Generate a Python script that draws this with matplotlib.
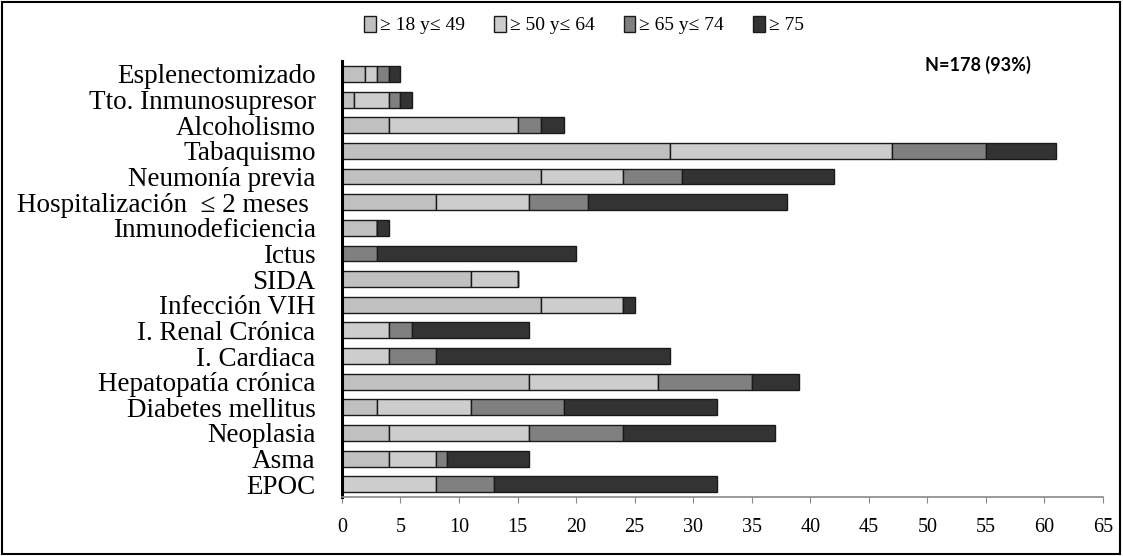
import matplotlib
matplotlib.use('Agg')
import matplotlib.pyplot as plt
import numpy as np
from matplotlib.patches import Rectangle

# categories, top to bottom as in the chart
categorias = ['Esplenectomizado', 'Tto. Inmunosupresor', 'Alcoholismo', 'Tabaquismo',
              'Neumonía previa', 'Hospitalización  ≤ 2 meses ', 'Inmunodeficiencia',
              'Ictus', 'SIDA', 'Infección VIH', 'I. Renal Crónica', 'I. Cardiaca',
              'Hepatopatía crónica', 'Diabetes mellitus', 'Neoplasia', 'Asma', 'EPOC']

edad_18_49 = [2, 1, 4, 28, 17, 8, 3, 0, 11, 17, 0, 0, 16, 3, 4, 4, 0]
edad_50_64 = [1, 3, 11, 19, 7, 8, 0, 0, 4, 7, 4, 4, 11, 8, 12, 4, 8]
edad_65_74 = [1, 1, 2, 8, 5, 5, 0, 3, 0, 0, 2, 4, 8, 8, 8, 1, 5]
edad_75 = [1, 1, 2, 6, 13, 17, 1, 17, 0, 1, 10, 20, 4, 13, 13, 7, 19]

series = [edad_18_49, edad_50_64, edad_65_74, edad_75]
leyenda = ['≥ 18 y≤ 49', '≥ 50 y≤ 64', '≥ 65 y≤ 74', '≥ 75']
colores = ['#c0c0c0', '#cdcdcd', '#808080', '#333333']
ticks_x = list(range(0, 70, 5))

serif = ['Liberation Serif', 'DejaVu Serif']

fig = plt.figure(figsize=(11.23, 5.56), dpi=100)
ax = fig.add_axes([0.3045, 0.106, 0.9822 - 0.3045, 0.784])

y = np.arange(len(categorias))[::-1]
left = np.zeros(len(categorias))
for vals, col, lab in zip(series, colores, leyenda):
    vals = np.array(vals, dtype=float)
    ax.barh(y, vals, left=left, height=0.62, color=col, edgecolor='#1a1a1a',
            linewidth=1.0, label=lab)
    left += vals

ax.set_xlim(0, 65)
ax.set_ylim(-0.5, len(categorias) - 0.5)
ax.set_xticks(ticks_x)
ax.set_xticklabels([str(t) for t in ticks_x], family=serif, fontsize=14.5)
ax.set_yticks(y)
ax.set_yticklabels(categorias, family=serif, fontsize=19.5)
ax.tick_params(axis='y', length=0, pad=19)
ax.tick_params(axis='x', length=4, color='#888888', pad=11)

for s in ['top', 'right']:
    ax.spines[s].set_visible(False)
ax.spines['bottom'].set_color('#888888')
ax.spines['bottom'].set_linewidth(1.2)
ax.spines['left'].set_color('black')
ax.spines['left'].set_linewidth(2.2)

fig.legend(loc='center', bbox_to_anchor=(0.52, 0.955), ncol=4, frameon=False,
           prop={'family': serif, 'size': 14}, handlelength=0.6, handleheight=0.9,
           handletextpad=0.2, columnspacing=1.5)

fig.text(0.871, 0.883, 'N=178 (93%)', fontsize=13, fontweight='bold',
         family='Lato', ha='center', va='center')

fig.patches.append(Rectangle((0.002, 0.004), 0.995, 0.992, transform=fig.transFigure,
                             fill=False, edgecolor='black', linewidth=1.5))

fig.savefig('out.png', dpi=100)
